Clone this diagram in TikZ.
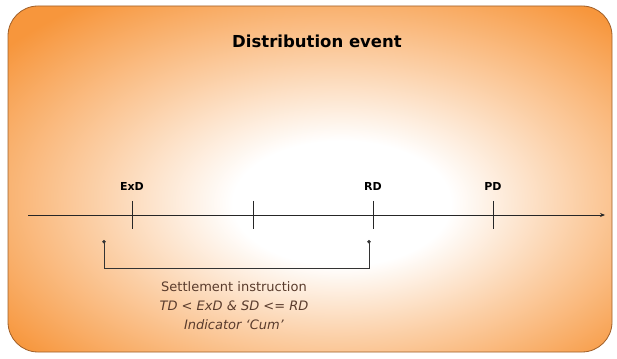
\documentclass[tikz,border=0pt]{standalone}
\usepackage{fontspec}
\setmainfont{DejaVu Sans}
\usepackage{tikz}
\usetikzlibrary{arrows.meta, positioning}
\definecolor{eventorange}{RGB}{247,150,60}
\definecolor{eventborder}{RGB}{160,95,40}
\definecolor{notebrown}{RGB}{90,60,45}
\pgfdeclareradialshading{eventglow}{\pgfpoint{3bp}{-4bp}}{%
  color(0bp)=(white); color(9bp)=(white); color(20bp)=(eventorange!45!white);
  color(34bp)=(eventorange); color(70bp)=(eventorange)}
\tikzset{
    eventbox/.style = {draw=eventborder, line width=0.8pt, rounded corners=30pt, shading=eventglow},
    titlenode/.style = {draw=none, fill=none, inner sep=0pt, font=\fontsize{16.5}{18}\selectfont\bfseries},
    datenode/.style = {draw=none, fill=none, inner sep=0pt, node distance=9pt, font=\fontsize{11}{13}\selectfont\bfseries},
    notenode/.style = {draw=none, fill=none, inner sep=0pt, align=center, text=notebrown,
      font=\fontsize{13}{19}\selectfont},
    timeline/.style = {black!85, line width=0.8pt, -{Stealth[length=5pt, width=4pt]}},
    tick/.style = {black!85, line width=0.8pt},
    settle/.style = {black!80, line width=0.8pt, {Circle[length=3.5pt]}-{Circle[length=3.5pt]}}
}

\begin{document}
\begin{tikzpicture}[x=1pt, y=1pt]
    \useasboundingbox (0,0) rectangle (617,358);
    \path [eventbox] (8,6) rectangle (612,352);
    \node [titlenode, name=Title] at (317,317) {Distribution event};

    % time axis
    \coordinate (Start) at (28,143);
    \coordinate (End) at (605,143);
    \draw [timeline] (Start) -- (End);
    \coordinate (ExD) at (132,143);
    \coordinate (Mid) at (253,143);
    \coordinate (RD) at (373,143);
    \coordinate (PD) at (493,143);
    \foreach \t in {ExD, Mid, RD, PD}
        \draw [tick] ([yshift=14pt]\t) -- ([yshift=-14pt]\t);
    \node [datenode, name=ExDLabel, above=of ExD, yshift=15pt] {ExD};
    \node [datenode, name=RDLabel, above=of RD, yshift=15pt] {RD};
    \node [datenode, name=PDLabel, above=of PD, yshift=15pt] {PD};

    % settlement window
    \coordinate (SIfrom) at (104,118);
    \coordinate (SIto) at (369,118);
    \draw [settle] (SIfrom) -- ++(0,-28) -| (SIto);
    \node [notenode, name=Note] at (234,52) {Settlement instruction\\
        \textit{TD < ExD \& SD <= RD}\\ \textit{Indicator `Cum'}};
\end{tikzpicture}
\end{document}
